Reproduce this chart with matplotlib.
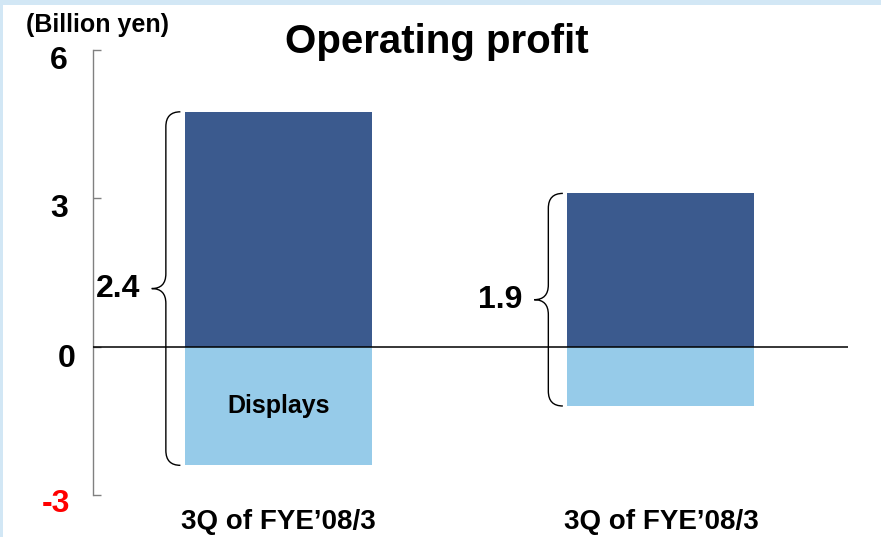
import matplotlib
matplotlib.use('Agg')
import matplotlib.pyplot as plt
from matplotlib.path import Path
from matplotlib.patches import PathPatch, Rectangle
import matplotlib.transforms as mtransforms

plt.rcParams['font.family'] = ['Liberation Sans', 'DejaVu Sans']
plt.rcParams['font.weight'] = 'bold'

# data (billion yen)
categories = ['3Q of FYE\u201908/3', '3Q of FYE\u201908/3']
positive = [4.75, 3.1]
negative = [-2.4, -1.2]
net_labels = ['2.4', '1.9']
neg_label = 'Displays'
yticks = [-3, 0, 3, 6]

dark = '#3B5A8E'
light = '#96CBE9'
border = '#D2E7F5'

fig = plt.figure(figsize=(8.81, 5.37), dpi=100, facecolor=border)
# white page inside the light blue frame
fig.patches.append(Rectangle((3 / 881, 0), 1, 1 - 5 / 537, transform=fig.transFigure,
                             facecolor='white', edgecolor='none', zorder=-10))

ax = fig.add_axes([93 / 881, 42 / 537, 755 / 881, 445 / 537])
ax.set_facecolor('none')

x = list(range(len(categories)))
width = 0.489
ax.bar(x, positive, width=width, color=dark, zorder=2)
ax.bar(x, negative, width=width, color=light, zorder=2)
ax.axhline(0, color='black', lw=1.1, zorder=3)

ax.set_xlim(-0.485, 1.489)
ax.set_ylim(-3, 6)

for s in ['top', 'right', 'bottom']:
    ax.spines[s].set_visible(False)
ax.spines['left'].set_color('#808080')
ax.spines['left'].set_linewidth(1.0)

ax.set_yticks(yticks)
ax.set_yticklabels([str(t) for t in yticks])
ax.tick_params(axis='y', direction='in', length=6, color='#808080', width=1,
               pad=18, labelsize=23)
# small per-label nudges (px) as in the original slide
nudges = {'6': (0, -7), '3': (0, -7), '0': (8, -9), '-3': (2, -6)}
for lab in ax.get_yticklabels():
    dx, dy = nudges.get(lab.get_text(), (0, -7))
    off = mtransforms.ScaledTranslation(dx / 100, dy / 100, fig.dpi_scale_trans)
    lab.set_transform(lab.get_transform() + off)
    lab.set_fontweight('bold')
    if lab.get_text() == '-3':
        lab.set_color('#FF0000')

ax.set_xticks(x)
ax.set_xticklabels(categories, fontsize=20, fontweight='bold')
ax.tick_params(axis='x', length=0, pad=6.5)
down = mtransforms.ScaledTranslation(0, -5 / 100, fig.dpi_scale_trans)
for lab in ax.get_xticklabels():
    lab.set_transform(lab.get_transform() + down)


def brace(ax, xr, y0, y1):
    # left-pointing curly brace whose right ends sit at xr
    xe = xr - 0.012
    xv = xr - 0.05
    xt = xr - 0.087
    ym = (y0 + y1) / 2
    r = 0.3
    verts = [(xe, y1), (xv, y1), (xv, y1 - r),
             (xv, ym + r),
             (xv, ym), (xt, ym),
             (xv, ym), (xv, ym - r),
             (xv, y0 + r),
             (xv, y0), (xe, y0)]
    codes = [Path.MOVETO, Path.CURVE3, Path.CURVE3,
             Path.LINETO,
             Path.CURVE3, Path.CURVE3,
             Path.CURVE3, Path.CURVE3,
             Path.LINETO,
             Path.CURVE3, Path.CURVE3]
    ax.add_patch(PathPatch(Path(verts, codes), fill=False, lw=1.0,
                           edgecolor='black', clip_on=False, zorder=4))
    return xt, ym


for xi, p, n, lab in zip(x, positive, negative, net_labels):
    xt, ym = brace(ax, xi - width / 2, n, p)
    ax.text(xt - 0.03, ym, lab, ha='right', va='center', fontsize=23,
            fontweight='bold', zorder=5)

ax.text(x[0], negative[0] / 2, neg_label, ha='center', va='center',
        fontsize=18, fontweight='bold', zorder=5)

fig.text(437 / 881, 1 - 42 / 537, 'Operating profit', ha='center', va='center',
         fontsize=29, fontweight='bold')
fig.text(98 / 881, 1 - 25 / 537, '(Billion yen)', ha='center', va='center',
         fontsize=18, fontweight='bold')

fig.savefig('out.png', dpi=100, facecolor=fig.get_facecolor())
